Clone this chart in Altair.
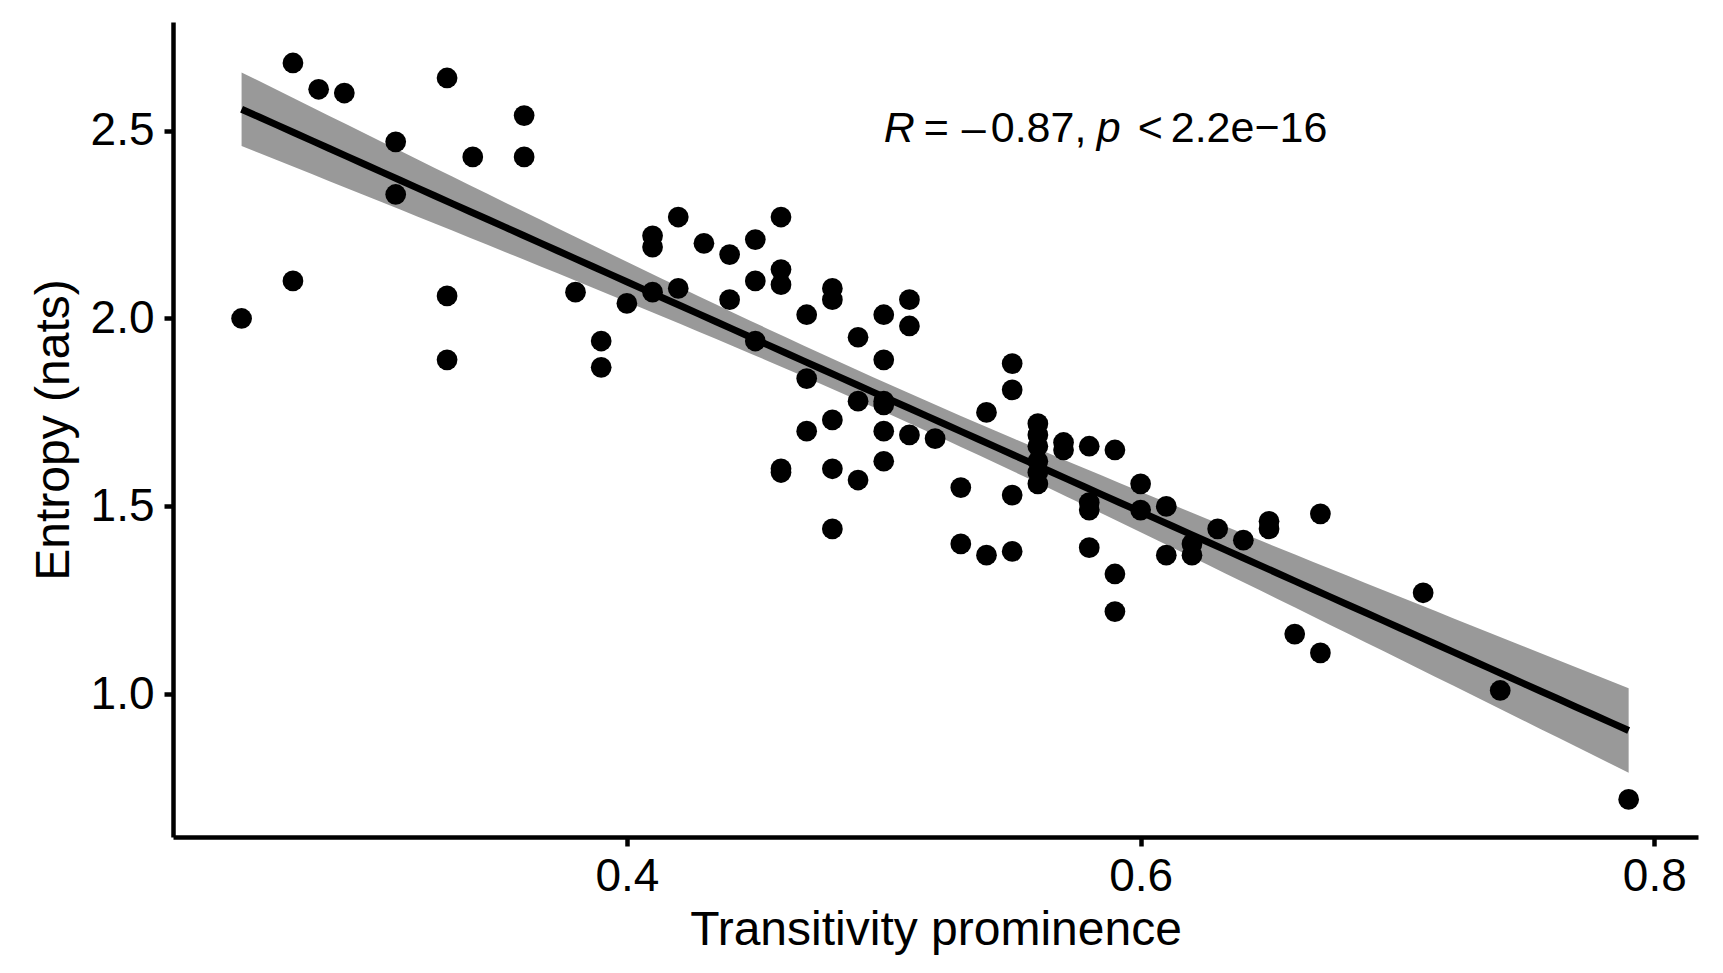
import altair as alt
import numpy as np
import pandas as pd

# ---- data ----
prominence = [
    0.25, 0.27, 0.27, 0.28, 0.29, 0.31, 0.31, 0.33, 0.33, 0.33,
    0.34, 0.36, 0.36, 0.38, 0.39, 0.39, 0.40, 0.41, 0.41, 0.41,
    0.42, 0.42, 0.43, 0.44, 0.44, 0.45, 0.45, 0.45,
    0.46, 0.46, 0.46, 0.46, 0.46, 0.47, 0.47, 0.47,
    0.48, 0.48, 0.48, 0.48, 0.48, 0.49, 0.49, 0.49,
    0.50, 0.50, 0.50, 0.50, 0.50, 0.50, 0.51, 0.51, 0.51, 0.52,
    0.53, 0.53, 0.54, 0.54, 0.55, 0.55, 0.55, 0.55,
    0.56, 0.56, 0.56, 0.56, 0.56, 0.56, 0.57, 0.57,
    0.58, 0.58, 0.58, 0.58, 0.59, 0.59, 0.59, 0.60, 0.60,
    0.61, 0.61, 0.62, 0.62, 0.63, 0.64, 0.65, 0.65, 0.66,
    0.67, 0.67, 0.71, 0.74, 0.79,
]
entropy = [
    2.00, 2.68, 2.10, 2.61, 2.60, 2.47, 2.33, 2.64, 2.06, 1.89,
    2.43, 2.54, 2.43, 2.07, 1.94, 1.87, 2.04, 2.22, 2.19, 2.07,
    2.27, 2.08, 2.20, 2.17, 2.05, 2.21, 2.10, 1.94,
    2.27, 2.13, 2.09, 1.60, 1.59, 2.01, 1.84, 1.70,
    2.08, 2.05, 1.73, 1.60, 1.44, 1.95, 1.78, 1.57,
    2.01, 1.89, 1.78, 1.77, 1.70, 1.62, 2.05, 1.98, 1.69, 1.68,
    1.55, 1.40, 1.75, 1.37, 1.88, 1.81, 1.53, 1.38,
    1.72, 1.69, 1.66, 1.62, 1.59, 1.56, 1.67, 1.65,
    1.66, 1.51, 1.49, 1.39, 1.65, 1.32, 1.22, 1.56, 1.49,
    1.50, 1.37, 1.40, 1.37, 1.44, 1.41, 1.46, 1.44, 1.16,
    1.48, 1.11, 1.27, 1.01, 0.72,
]
x_ticks = [0.4, 0.6, 0.8]
y_ticks = [1.0, 1.5, 2.0, 2.5]
x_title = "Transitivity prominence"
y_title = "Entropy (nats)"

pts = pd.DataFrame({"x": prominence, "y": entropy})

# ---- linear fit with 95% confidence band (like geom_smooth(method="lm")) ----
xa = np.array(prominence)
ya = np.array(entropy)
n = len(xa)
slope, intercept = np.polyfit(xa, ya, 1)
resid = ya - (intercept + slope * xa)
s = np.sqrt(np.sum(resid ** 2) / (n - 2))
xm = xa.mean()
sxx = np.sum((xa - xm) ** 2)
tq = 1.987
grid = np.linspace(xa.min(), xa.max(), 80)
fit = intercept + slope * grid
se = s * np.sqrt(1.0 / n + (grid - xm) ** 2 / sxx)
band = pd.DataFrame({"x": grid, "fit": fit, "lo": fit - tq * se, "hi": fit + tq * se})

FONT = "Liberation Sans"
xs = alt.Scale(domain=[0.2233, 0.817], nice=False, zero=False)
ys = alt.Scale(domain=[0.62, 2.789], nice=False, zero=False)

xenc = alt.X("x:Q", scale=xs, title=x_title,
             axis=alt.Axis(values=x_ticks, format=".1f", labelFontSize=46,
                           titleFontSize=48, labelPadding=8, titlePadding=7))
yenc = alt.Y("y:Q", scale=ys, title=y_title,
             axis=alt.Axis(values=y_ticks, format=".1f", labelFontSize=46,
                           titleFontSize=48, labelPadding=10, titlePadding=12))

area = alt.Chart(band).mark_area(color="#999999", opacity=1).encode(
    x=alt.X("x:Q", scale=xs, title=x_title),
    y=alt.Y("lo:Q", scale=ys, title=y_title),
    y2="hi:Q",
)
line = alt.Chart(band).mark_line(color="black", strokeWidth=7).encode(
    x=alt.X("x:Q", scale=xs), y=alt.Y("fit:Q", scale=ys)
)
points = alt.Chart(pts).mark_circle(color="black", opacity=1, size=430).encode(
    x=xenc, y=yenc
)

ann = pd.DataFrame({"x": [0.5], "y": [2.47]})
def seg(text, dx, italic=False):
    return alt.Chart(ann).mark_text(
        text=text, align="left", baseline="alphabetic", dx=dx,
        fontSize=43, font=FONT, fontStyle="italic" if italic else "normal",
        color="black",
    ).encode(x=alt.X("x:Q", scale=xs), y=alt.Y("y:Q", scale=ys))

annotation = (seg("R", 0, True) + seg("=", 40) + seg("\u2013", 78) + seg("0.87,", 107)
              + seg("p", 213, True) + seg("<", 254) + seg("2.2e\u221216", 287))

chart = (area + line + points + annotation).properties(
    width=1525, height=815,
    autosize=alt.AutoSizeParams(type="none"),
    padding={"left": 165, "top": 14, "right": 17, "bottom": 125},
    background="white",
).configure_axis(
    grid=False, domainColor="black", domainWidth=4.5, tickColor="black",
    tickWidth=4.5, tickSize=9, labelColor="black", titleColor="black",
    labelFont=FONT, titleFont=FONT, titleFontWeight="normal",
).configure_view(stroke=None)

chart.save("out.html", embed_options={"renderer": "svg", "actions": False})
